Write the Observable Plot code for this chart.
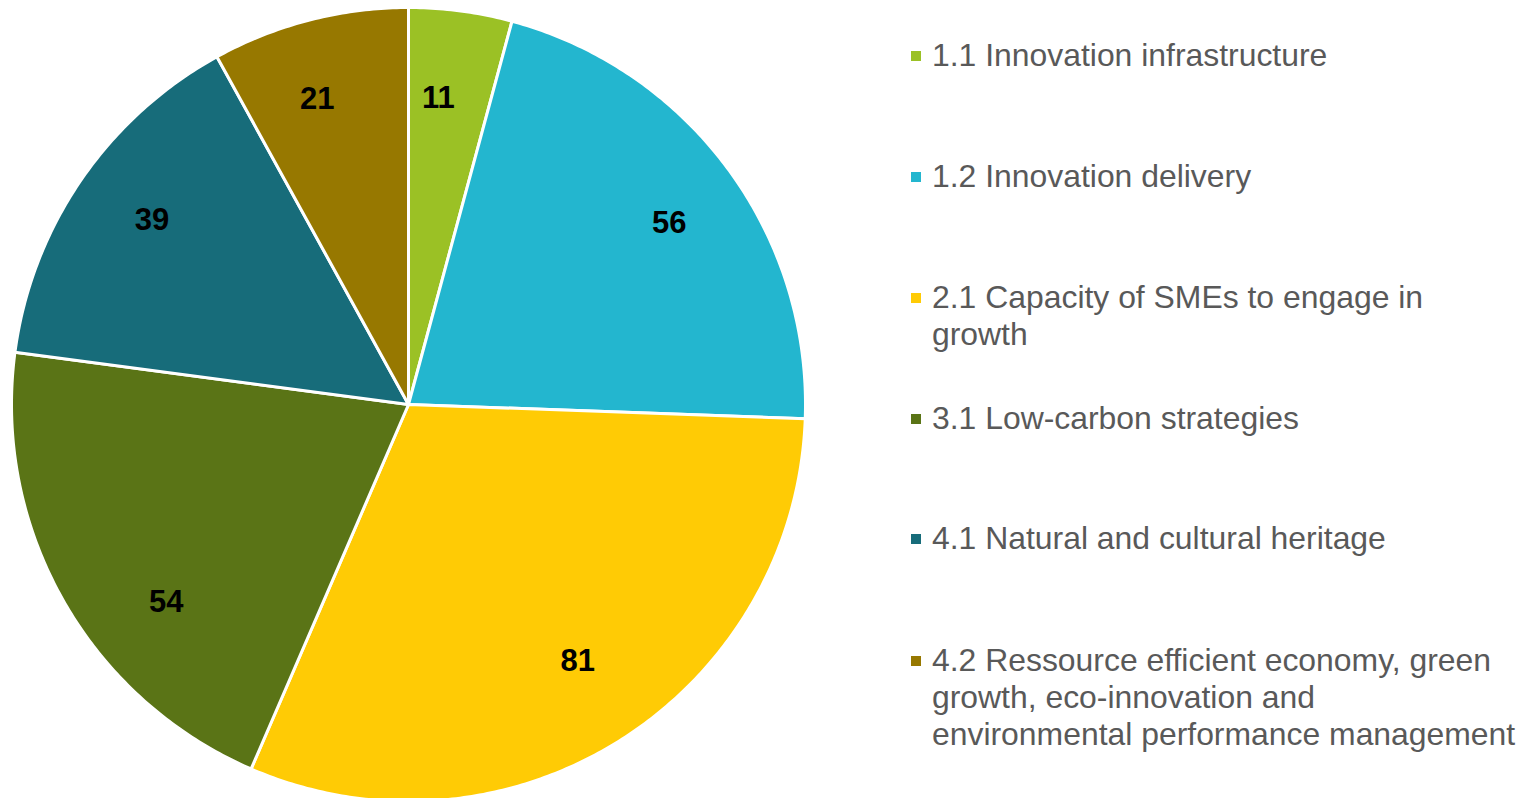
<!DOCTYPE html>
<html>
<head>
<meta charset="utf-8">
<script src="https://cdn.jsdelivr.net/npm/d3@7"></script>
<script src="https://cdn.jsdelivr.net/npm/@observablehq/plot@0.6"></script>
<style>
  html, body { margin: 0; padding: 0; background: #fff; }
  #wrap { position: relative; width: 1533px; height: 798px; overflow: hidden; font-family: "Liberation Sans", Arial, sans-serif; }
  #chart { position: absolute; left: 0; top: 0; }
  .leg { position: absolute; left: 911px; width: 622px; color: #595959; font-size: 31.9px; line-height: 37px; }
  .leg .sw { position: absolute; left: 0; top: 14px; width: 10px; height: 10px; }
  .leg .tx { margin-left: 21px; white-space: nowrap; }
</style>
</head>
<body>
<div id="wrap"><div id="chart"></div></div>
<script>
const categories = [
  "1.1 Innovation infrastructure",
  "1.2 Innovation delivery",
  "2.1 Capacity of SMEs to engage in growth",
  "3.1 Low-carbon strategies",
  "4.1 Natural and cultural heritage",
  "4.2 Ressource efficient economy, green growth, eco-innovation and environmental performance management"
];
const legendLines = [
  ["1.1 Innovation infrastructure"],
  ["1.2 Innovation delivery"],
  ["2.1 Capacity of SMEs to engage in", "growth"],
  ["3.1 Low-carbon strategies"],
  ["4.1 Natural and cultural heritage"],
  ["4.2 Ressource efficient economy, green", "growth, eco-innovation and", "environmental performance management"]
];
const values = [11, 56, 81, 54, 39, 21];
const colors = ["#9BC125", "#23B6CF", "#FFCB05", "#5A7416", "#176C7A", "#977800"];

// label placement tweaks (angle in degrees, radius as fraction of pie radius), styling only
const labelNudgeDeg = [-2, 1.6, -1.1, -9.7, 1.3, -2.2];
const labelRadiusFrac = [0.775, 0.8, 0.775, 0.788, 0.795, 0.803];

const R = 397;
const total = d3.sum(values);
const angles = [];
let acc = 0;
values.forEach((v, i) => {
  const a0 = acc / total * 2 * Math.PI;
  acc += v;
  const a1 = acc / total * 2 * Math.PI;
  angles.push({cat: categories[i], value: v, a0, a1});
});

const pts = [];
angles.forEach(s => {
  pts.push({cat: s.cat, x: 0, y: 0});
  const n = Math.max(4, Math.ceil((s.a1 - s.a0) / 0.01));
  for (let k = 0; k <= n; k++) {
    const a = s.a0 + (s.a1 - s.a0) * k / n;
    pts.push({cat: s.cat, x: R * Math.sin(a), y: R * Math.cos(a)});
  }
});
const labels = angles.map((s, i) => {
  const m = (s.a0 + s.a1) / 2 + labelNudgeDeg[i] * Math.PI / 180;
  const r = R * labelRadiusFrac[i];
  return {cat: s.cat, value: s.value, x: r * Math.sin(m), y: r * Math.cos(m)};
});

const chart = Plot.plot({
  width: 816,
  height: 798,
  margin: 0,
  x: {domain: [-408, 408], axis: null},
  y: {domain: [-394, 404], axis: null},
  color: {domain: categories, range: colors},
  marks: [
    Plot.line(pts, {x: "x", y: "y", z: "cat", fill: "cat", stroke: "white", strokeWidth: 3, strokeLinejoin: "round", curve: "linear-closed"}),
    Plot.text(labels, {x: "x", y: "y", text: d => String(d.value), fill: "black", fontSize: 31, fontWeight: "bold", fontFamily: "Liberation Sans, Arial, sans-serif"})
  ]
});
document.getElementById("chart").appendChild(chart);

const tops = [37, 158, 279, 400, 520, 642];
const wrap = document.getElementById("wrap");
legendLines.forEach((lines, i) => {
  const d = document.createElement("div");
  d.className = "leg";
  d.style.top = tops[i] + "px";
  const sw = document.createElement("div");
  sw.className = "sw";
  sw.style.background = colors[i];
  d.appendChild(sw);
  const t = document.createElement("div");
  t.className = "tx";
  t.innerHTML = lines.join("<br>");
  d.appendChild(t);
  wrap.appendChild(d);
});
</script>
</body>
</html>
